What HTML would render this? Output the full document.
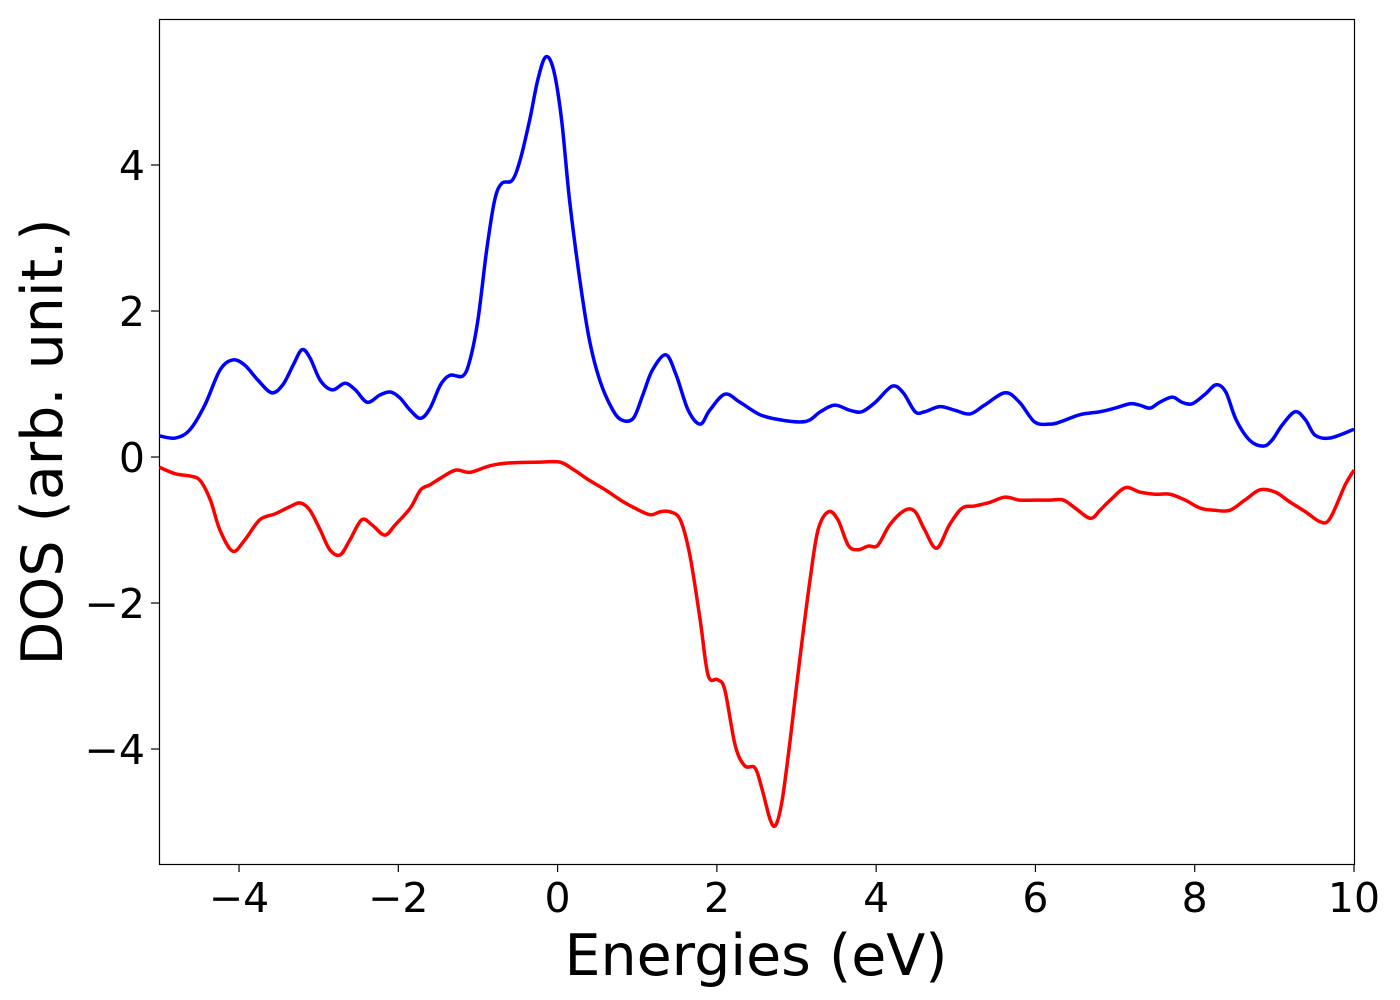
<!DOCTYPE html>
<html><head><meta charset="utf-8"><style>
html,body{margin:0;padding:0;background:#fff;}
svg{display:block;font-family:"DejaVu Sans","Liberation Sans",sans-serif;}
</style></head><body>
<svg id="chart" width="1400" height="1000" xmlns="http://www.w3.org/2000/svg">
<rect x="159.5" y="19.5" width="1195" height="845" fill="none" stroke="#000" stroke-width="1.2"/>
<g id="xt"></g>
<g id="yt"></g>
<g id="lines"></g>
<text x="756" y="975" font-size="57" text-anchor="middle">Energies (eV)</text>
<text transform="translate(62,442) rotate(-90)" font-size="57" text-anchor="middle">DOS (arb. unit.)</text>
</svg>
<script>
const xTicks=[-4,-2,0,2,4,6,8,10];
const yTicks=[-4,-2,0,2,4];
const upE=[-5.0,-4.80,-4.62,-4.43,-4.24,-4.08,-3.93,-3.76,-3.59,-3.45,-3.32,-3.21,-3.11,-2.98,-2.83,-2.67,-2.54,-2.39,-2.23,-2.10,-1.98,-1.85,-1.72,-1.60,-1.47,-1.35,-1.19,-1.10,-1.00,-0.89,-0.79,-0.70,-0.57,-0.47,-0.35,-0.25,-0.15,-0.05,0.05,0.15,0.28,0.40,0.53,0.68,0.80,0.95,1.07,1.19,1.36,1.49,1.64,1.79,1.91,2.10,2.29,2.54,2.79,3.04,3.17,3.30,3.48,3.67,3.82,3.99,4.20,4.34,4.49,4.61,4.80,4.99,5.18,5.36,5.62,5.80,5.99,6.18,6.31,6.56,6.81,7.00,7.19,7.31,7.44,7.56,7.72,7.84,7.97,8.13,8.27,8.39,8.52,8.69,8.86,8.97,9.10,9.26,9.39,9.51,9.70,10.0];
const upDos=[0.29,0.26,0.37,0.71,1.19,1.33,1.26,1.05,0.88,0.99,1.26,1.47,1.36,1.05,0.92,1.01,0.92,0.75,0.85,0.89,0.81,0.64,0.53,0.67,0.99,1.12,1.11,1.33,1.88,2.84,3.52,3.75,3.79,4.07,4.62,5.16,5.48,5.30,4.62,3.52,2.42,1.60,1.05,0.67,0.51,0.53,0.85,1.19,1.40,1.12,0.64,0.45,0.64,0.86,0.75,0.58,0.51,0.48,0.51,0.62,0.71,0.64,0.62,0.75,0.97,0.88,0.62,0.62,0.69,0.64,0.59,0.71,0.88,0.75,0.48,0.45,0.48,0.58,0.62,0.67,0.73,0.71,0.67,0.75,0.82,0.75,0.73,0.86,0.99,0.89,0.51,0.23,0.15,0.23,0.44,0.62,0.51,0.30,0.26,0.38];
const dnE=[-5.00,-4.80,-4.62,-4.49,-4.36,-4.24,-4.08,-3.93,-3.74,-3.55,-3.36,-3.23,-3.11,-2.98,-2.86,-2.73,-2.61,-2.46,-2.33,-2.17,-2.04,-1.85,-1.72,-1.60,-1.47,-1.28,-1.10,-0.85,-0.60,-0.22,0.03,0.21,0.40,0.60,0.79,0.97,1.16,1.29,1.41,1.54,1.66,1.79,1.89,2.01,2.10,2.23,2.35,2.48,2.57,2.67,2.74,2.82,2.92,3.04,3.17,3.27,3.40,3.52,3.65,3.77,3.90,4.02,4.17,4.36,4.49,4.61,4.76,4.92,5.08,5.24,5.43,5.62,5.80,5.99,6.18,6.35,6.50,6.69,6.81,6.94,7.13,7.31,7.50,7.69,7.88,8.07,8.25,8.44,8.63,8.82,9.01,9.20,9.39,9.58,9.70,9.89,10.0];
const dnDos=[-0.14,-0.23,-0.26,-0.32,-0.59,-1.00,-1.29,-1.14,-0.86,-0.78,-0.68,-0.63,-0.73,-1.00,-1.27,-1.34,-1.14,-0.86,-0.93,-1.07,-0.93,-0.70,-0.45,-0.38,-0.29,-0.18,-0.21,-0.12,-0.08,-0.07,-0.07,-0.18,-0.32,-0.45,-0.59,-0.70,-0.79,-0.75,-0.75,-0.86,-1.34,-2.23,-2.99,-3.05,-3.19,-3.95,-4.23,-4.26,-4.56,-4.97,-5.04,-4.70,-3.88,-2.78,-1.68,-1.00,-0.75,-0.86,-1.21,-1.27,-1.22,-1.21,-0.93,-0.73,-0.75,-1.00,-1.25,-0.93,-0.70,-0.67,-0.62,-0.55,-0.59,-0.59,-0.59,-0.59,-0.70,-0.84,-0.73,-0.59,-0.42,-0.48,-0.51,-0.51,-0.59,-0.70,-0.73,-0.73,-0.59,-0.45,-0.48,-0.62,-0.75,-0.89,-0.84,-0.38,-0.18];

const NS='http://www.w3.org/2000/svg';
const X0=159.4,X1=1354,XMIN=-5,XMAX=10,Y0=864,Y1=19,YMIN=-5.575,YMAX=6.0;
function sx(v){return X0+(v-XMIN)/(XMAX-XMIN)*(X1-X0);}
function sy(v){return Y0-(v-YMIN)/(YMAX-YMIN)*(Y0-Y1);}
function mk(t,a,p){const e=document.createElementNS(NS,t);for(const k in a)e.setAttribute(k,a[k]);p.appendChild(e);return e;}
const xt=document.getElementById('xt'),yt=document.getElementById('yt'),lg=document.getElementById('lines');
xTicks.forEach(v=>{
  const l=mk('line',{x1:sx(v),x2:sx(v),y1:864,y2:872,stroke:'#000','stroke-width':1.2},xt);
  
  
  const t=mk('text',{x:sx(v),y:912,'font-size':41,'text-anchor':'middle'},xt);
  t.textContent=(v<0?'\u2212'+(-v):v);
  
  
});
yTicks.forEach(v=>{
  const l=mk('line',{x1:151,x2:159,y1:sy(v),y2:sy(v),stroke:'#000','stroke-width':1.2},yt);
  
  
  const t=mk('text',{x:145,y:sy(v)+15,'font-size':41,'text-anchor':'end'},yt);
  t.textContent=(v<0?'\u2212'+(-v):v);
  
  
});
function path(xs,ys){
  const p=xs.map((x,i)=>[sx(x),sy(ys[i])]);
  let d='M'+p[0][0]+','+p[0][1];
  for(let i=0;i<p.length-1;i++){
    const a=p[Math.max(0,i-1)],b=p[i],c=p[i+1],e=p[Math.min(p.length-1,i+2)];
    const c1=[b[0]+(c[0]-a[0])/6,b[1]+(c[1]-a[1])/6],c2=[c[0]-(e[0]-b[0])/6,c[1]-(e[1]-b[1])/6];
    d+=' C'+c1[0]+','+c1[1]+' '+c2[0]+','+c2[1]+' '+c[0]+','+c[1];
  }
  return d;
}
const up=mk('path',{d:path(upE,upDos),fill:'none',stroke:'#0000ff','stroke-width':3.5},lg);


const dn=mk('path',{d:path(dnE,dnDos),fill:'none',stroke:'#ff0000','stroke-width':3.5},lg);


</script>
</body></html>
